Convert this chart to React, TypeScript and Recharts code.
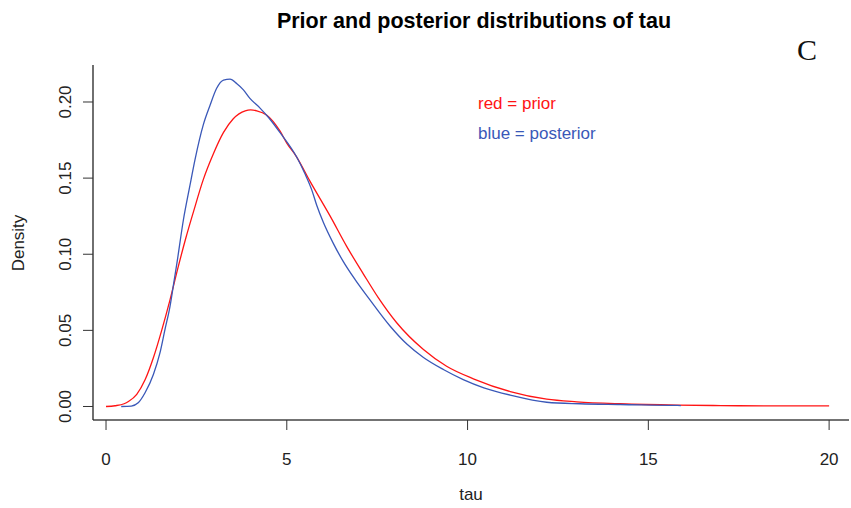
import React from "react";
import { LineChart, Line, XAxis, YAxis } from "recharts";

const priorTau = [0, 0.25, 0.5, 0.62, 0.85, 1.08, 1.31, 1.54, 1.77, 2.0, 2.2, 2.42, 2.69, 2.97, 3.25, 3.52, 3.85, 4.0, 4.17, 4.44, 4.81, 5.0, 5.27, 5.64, 6.2, 6.66, 7.12, 7.53, 8.04, 8.78, 9.42, 10.16, 11.18, 12.19, 13.02, 14.22, 15.8, 17, 18.5, 20];
const priorDensity = [0, 0.0005, 0.0018, 0.0033, 0.008, 0.0175, 0.032, 0.05, 0.07, 0.092, 0.11, 0.128, 0.149, 0.166, 0.18, 0.189, 0.1942, 0.1948, 0.1942, 0.1915, 0.181, 0.173, 0.164, 0.148, 0.125, 0.105, 0.087, 0.0715, 0.055, 0.0374, 0.0264, 0.0182, 0.0098, 0.0048, 0.0031, 0.0018, 0.0009, 0.0006, 0.0004, 0.0004];

const postTau = [0.42, 0.7, 0.89, 1.08, 1.31, 1.49, 1.63, 1.77, 1.86, 1.96, 2.14, 2.32, 2.46, 2.69, 2.88, 3.06, 3.25, 3.43, 3.62, 3.8, 3.98, 4.26, 4.49, 4.81, 5.27, 5.5, 5.69, 5.83, 6.01, 6.29, 6.56, 6.89, 7.3, 7.86, 8.32, 8.78, 9.33, 9.88, 10.45, 11.18, 12.19, 13.11, 14.22, 15.8, 15.9];
const postDensity = [0, 0.0003, 0.0024, 0.009, 0.021, 0.035, 0.0505, 0.0658, 0.079, 0.094, 0.1225, 0.145, 0.162, 0.185, 0.198, 0.209, 0.2144, 0.215, 0.212, 0.208, 0.2024, 0.196, 0.19, 0.18, 0.164, 0.153, 0.1423, 0.132, 0.121, 0.107, 0.0953, 0.0833, 0.07, 0.0527, 0.041, 0.0322, 0.0243, 0.0177, 0.0123, 0.0075, 0.0028, 0.0018, 0.0013, 0.0007, 0.0006];

const xTicks = [0, 5, 10, 15, 20];
const yTicks = [0, 0.05, 0.1, 0.15, 0.2];

const titleText = "Prior and posterior distributions of tau";
const xLabel = "tau";
const yLabel = "Density";
const legendLines = ["red = prior", "blue = posterior"];
const panelLetter = "C";

const RED = "#ff1414";
const BLUE = "#3a58b8";

const priorData = priorTau.map((t, i) => ({ t, d: priorDensity[i] }));
const postData = postTau.map((t, i) => ({ t, d: postDensity[i] }));

const W = 851;
const H = 508;
const FONT = "'Liberation Sans', Arial, sans-serif";

const XTick = (props: any) => {
  const { x, y, payload } = props;
  return (
    <text x={x} y={y + 33} textAnchor="middle" fontFamily={FONT} fontSize={17} fill="#222">
      {payload.value}
    </text>
  );
};

const YTick = (props: any) => {
  const { x, y, payload } = props;
  const tx = x - 10;
  return (
    <text
      x={tx}
      y={y}
      transform={`rotate(-90 ${tx} ${y})`}
      textAnchor="middle"
      fontFamily={FONT}
      fontSize={17}
      fill="#222"
    >
      {Number(payload.value).toFixed(2)}
    </text>
  );
};

export default function App() {
  return (
    <div style={{ position: "absolute", left: 0, top: 0, width: W, height: H, background: "#fff" }}>
      <LineChart width={W} height={H} margin={{ top: 65, right: 2, bottom: 0, left: 0 }}>
        <XAxis
          type="number"
          dataKey="t"
          domain={[-0.36, 20.55]}
          ticks={xTicks}
          allowDataOverflow
          height={88}
          tickSize={10}
          stroke="#333"
          tickLine={{ stroke: "#333" }}
          axisLine={{ stroke: "#444", strokeWidth: 1.3 }}
          tick={<XTick />}
        />
        <YAxis
          type="number"
          domain={[-0.00887, 0.2243]}
          ticks={yTicks}
          allowDataOverflow
          width={93}
          tickSize={10}
          stroke="#333"
          tickLine={{ stroke: "#333" }}
          axisLine={{ stroke: "#222", strokeWidth: 1.3 }}
          tick={<YTick />}
        />
        <Line
          data={priorData}
          dataKey="d"
          type="monotone"
          stroke={RED}
          strokeWidth={1.3}
          dot={false}
          isAnimationActive={false}
        />
        <Line
          data={postData}
          dataKey="d"
          type="monotone"
          stroke={BLUE}
          strokeWidth={1.3}
          dot={false}
          isAnimationActive={false}
        />
      </LineChart>
      <svg
        width={W}
        height={H}
        style={{ position: "absolute", left: 0, top: 0, pointerEvents: "none" }}
      >
        <text x={474} y={28} textAnchor="middle" fontFamily={FONT} fontWeight="bold" fontSize={21.5} fill="#000">
          {titleText}
        </text>
        <text x={807} y={60} textAnchor="middle" fontFamily="'Liberation Serif', 'Times New Roman', serif" fontSize={30} fill="#111">
          {panelLetter}
        </text>
        <text x={471} y={500} textAnchor="middle" fontFamily={FONT} fontSize={17} fill="#222">
          {xLabel}
        </text>
        <text
          x={24}
          y={243}
          transform="rotate(-90 24 243)"
          textAnchor="middle"
          fontFamily={FONT}
          fontSize={17}
          fill="#222"
        >
          {yLabel}
        </text>
        <text x={478} y={109} fontFamily={FONT} fontSize={17} fill={RED}>
          {legendLines[0]}
        </text>
        <text x={478} y={139} fontFamily={FONT} fontSize={17} fill={BLUE}>
          {legendLines[1]}
        </text>
      </svg>
    </div>
  );
}
